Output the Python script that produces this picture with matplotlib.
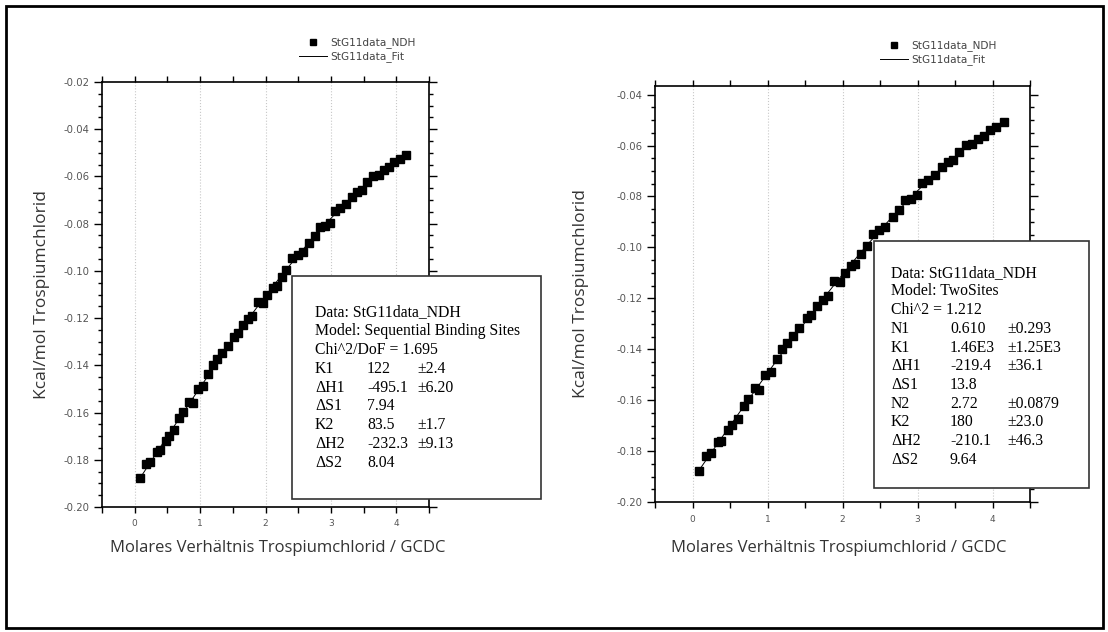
import numpy as np
import matplotlib
matplotlib.use("Agg")
import matplotlib.pyplot as plt
from matplotlib.patches import Rectangle
from matplotlib.ticker import MultipleLocator, FormatStrFormatter

plt.rcParams['axes.unicode_minus'] = False

# measured ITC data (same data set in both panels)
ratio = [0.087, 0.18, 0.24, 0.34, 0.38, 0.475, 0.525, 0.60, 0.68, 0.74,
         0.83, 0.89, 0.97, 1.05, 1.12, 1.19, 1.26, 1.34, 1.42, 1.52,
         1.58, 1.66, 1.74, 1.80, 1.89, 1.96, 2.03, 2.11, 2.17, 2.25,
         2.32, 2.41, 2.49, 2.57, 2.67, 2.75, 2.83, 2.91, 2.99, 3.06,
         3.14, 3.23, 3.32, 3.40, 3.47, 3.55, 3.65, 3.73, 3.81, 3.89,
         3.97, 4.05, 4.15]
heat = [-0.1879, -0.1819, -0.1808, -0.1766, -0.1759, -0.1719, -0.1698, -0.1674, -0.1622, -0.1596,
        -0.1554, -0.1561, -0.1500, -0.1488, -0.1438, -0.1399, -0.1374, -0.1349, -0.1318, -0.1279,
        -0.1264, -0.1229, -0.1205, -0.1191, -0.1133, -0.1135, -0.1102, -0.1074, -0.1064, -0.1025,
        -0.0996, -0.0947, -0.0933, -0.0919, -0.0881, -0.0852, -0.0815, -0.0809, -0.0796, -0.0746,
        -0.0735, -0.0717, -0.0686, -0.0665, -0.0657, -0.0625, -0.0597, -0.0594, -0.0573, -0.0561,
        -0.0538, -0.0527, -0.0509]

legend_labels = ["StG11data_NDH", "StG11data_Fit"]

# fit result boxes
left_head = ["Data: StG11data_NDH", "Model: Sequential Binding Sites", "Chi^2/DoF = 1.695"]
left_rows = [("K1", "122", "\u00b12.4"), ("\u0394H1", "-495.1", "\u00b16.20"), ("\u0394S1", "7.94", ""),
             ("K2", "83.5", "\u00b11.7"), ("\u0394H2", "-232.3", "\u00b19.13"), ("\u0394S2", "8.04", "")]
right_head = ["Data: StG11data_NDH", "Model: TwoSites", "Chi^2 = 1.212"]
right_rows = [("N1", "0.610", "\u00b10.293"), ("K1", "1.46E3", "\u00b11.25E3"), ("\u0394H1", "-219.4", "\u00b136.1"),
              ("\u0394S1", "13.8", ""), ("N2", "2.72", "\u00b10.0879"), ("K2", "180", "\u00b123.0"),
              ("\u0394H2", "-210.1", "\u00b146.3"), ("\u0394S2", "9.64", "")]

W, H = 1108, 632
fig = plt.figure(figsize=(W / 100, H / 100), dpi=100)


def fx(x):
    return x / W


def fy(y):
    return 1 - y / H


# outer frame
fig.patches.append(Rectangle((fx(6), fy(628)), fx(1103) - fx(6), fy(6) - fy(628),
                             transform=fig.transFigure, fill=False, lw=2, ec='black'))

x = np.array(ratio)
y = np.array(heat)
coef = np.polyfit(x, y, 3)
xs = np.linspace(0.05, 4.17, 200)


def panel(box, ylim, yticks, legend_xy, text_box, text_rows, head, rows, cols, ylab_x, xlab_x):
    left, top, right, bottom = box
    ax = fig.add_axes([fx(left), fy(bottom), fx(right) - fx(left), fy(top) - fy(bottom)])
    for xv in range(5):
        ax.axvline(xv, color='#c8c8c8', lw=0.8, ls=':', zorder=0)
    pts, = ax.plot(x, y, 's', color='black', ms=5.8, label=legend_labels[0], zorder=3)
    fit, = ax.plot(xs, np.polyval(coef, xs), '-', color='black', lw=0.7, label=legend_labels[1], zorder=4)
    ax.set_xlim(-0.5, 4.5)
    ax.set_ylim(*ylim)
    ax.set_yticks(yticks)
    ax.yaxis.set_major_formatter(FormatStrFormatter('%.2f'))
    ax.xaxis.set_major_locator(MultipleLocator(1))
    ax.xaxis.set_minor_locator(MultipleLocator(0.5))
    ax.yaxis.set_minor_locator(MultipleLocator(0.005))
    for s in ax.spines.values():
        s.set_linewidth(1.2)
    ax.tick_params(which='both', top=True, right=True, labelsize=7.3, labelcolor='#555555', width=1)
    ax.tick_params(axis='x', which='both', direction='out', length=4, pad=5)
    ax.tick_params(axis='x', labelsize=6.5)
    ax.tick_params(axis='y', which='major', direction='out', length=6, pad=3)
    ax.tick_params(axis='y', which='minor', direction='out', length=3)
    fig.text(fx(xlab_x), fy(548), "Molares Verh\u00e4ltnis Trospiumchlorid / GCDC",
             ha='center', va='center', fontsize=12, family='Open Sans', color='#333333')
    fig.text(fx(ylab_x), fy((top + bottom) / 2), "Kcal/mol Trospiumchlorid", rotation=90,
             ha='center', va='center', fontsize=12.5, family='Open Sans', color='#333333')
    lx, ly = legend_xy
    ax.legend(handles=[pts, fit], loc='upper left', bbox_to_anchor=(fx(lx), fy(ly)),
              bbox_transform=fig.transFigure, frameon=False, fontsize=7.6, markerscale=0.75,
              handlelength=2.6, handletextpad=0.3, labelspacing=0.3, borderpad=0,
              labelcolor='#444444')
    bl, bt, br, bb = text_box
    fig.patches.append(Rectangle((fx(bl), fy(bb)), fx(br) - fx(bl), fy(bt) - fy(bb),
                                 transform=fig.transFigure, fc='white', ec='#333333', lw=1.2, zorder=5))
    first, step = text_rows
    lines = [(h, "", "") for h in head] + rows
    for i, (a, b, c) in enumerate(lines):
        yy = fy(first + i * step)
        if b == "" and c == "":
            fig.text(fx(cols[0]), yy, a, fontsize=11.3, family='Liberation Serif', va='center', zorder=6)
        else:
            for cxp, t in zip(cols, (a, b, c)):
                fig.text(fx(cxp), yy, t, fontsize=11.3, family='Liberation Serif', va='center', zorder=6)
    return ax


panel((102, 82, 429, 507), (-0.20, -0.02), np.arange(-0.20, -0.019, 0.02), (294, 32),
      (292, 276, 541, 499), (312, 18.9), left_head, left_rows, (315, 367, 417), 42, 278)
panel((655, 86, 1030, 502), (-0.20, -0.0366), np.arange(-0.20, -0.039, 0.02), (875, 35),
      (874, 241, 1089, 488), (272.7, 18.7), right_head, right_rows, (891, 950, 1007), 581, 839)

fig.savefig("out.png", dpi=100)
